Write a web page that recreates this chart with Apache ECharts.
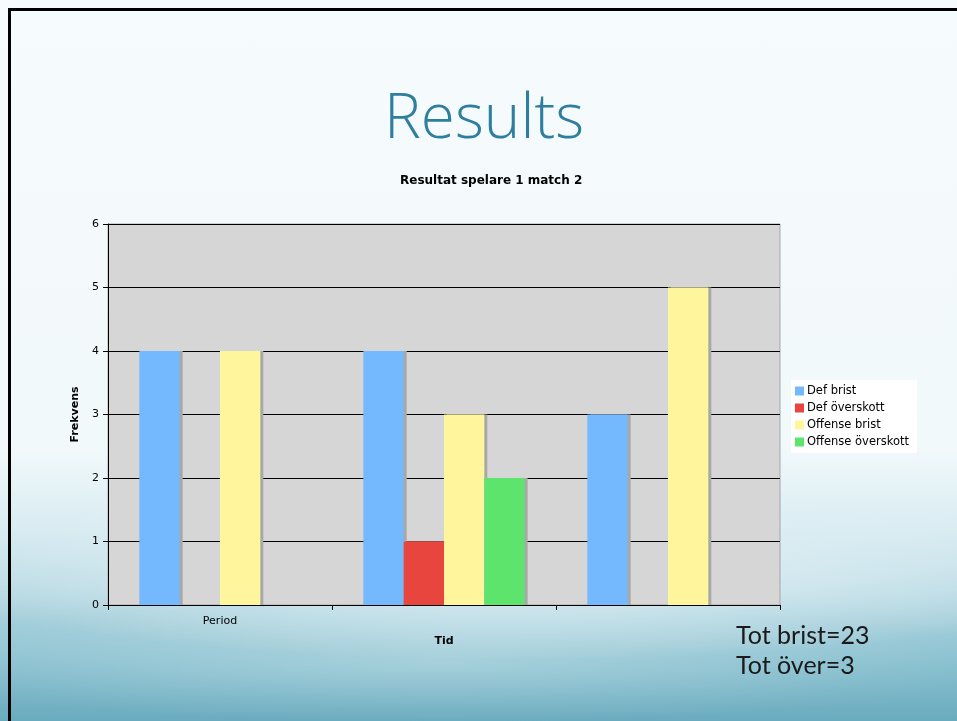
<!DOCTYPE html>
<html>
<head>
<meta charset="utf-8">
<script src="https://cdn.jsdelivr.net/npm/echarts@6/dist/echarts.min.js"></script>
<style>
  html, body { margin: 0; padding: 0; }
  body {
    width: 957px; height: 721px; overflow: hidden; position: relative;
    background:
      radial-gradient(ellipse 560px 60px at 46% 92%, rgba(255,255,255,0.25), rgba(255,255,255,0) 100%),
      radial-gradient(ellipse 620px 90px at 55% 79%, rgba(226,241,246,0.8) 20%, rgba(226,241,246,0) 100%),
      linear-gradient(to bottom, #f6fbfd 0%, #f2f9fb 62%, #d9ecf2 73%, #b3d6e1 83%, #88c0cf 92%, #6aabbf 100%);
  }
  .frame {
    position: absolute; left: 8px; top: 8px; right: -10px; bottom: -10px;
    border-top: 3px solid #000; border-left: 3px solid #000;
  }
  #chart { position: absolute; left: 0; top: 0; width: 957px; height: 721px; }
</style>
</head>
<body>
<div class="frame"></div>
<div id="chart"></div>
<script>
const categories = ['p1', 'p2', 'p3'];
const xLabels = ['Period', '', ''];
const yTicks = [0, 1, 2, 3, 4, 5, 6];
const defBrist = [4, 4, 3];
const defOver = [0, 1, 0];
const offBrist = [4, 3, 5];
const offOver = [0, 2, 0];
const seriesNames = ['Def brist', 'Def överskott', 'Offense brist', 'Offense överskott'];
const seriesColors = ['#74b8fe', '#e8453f', '#fff59d', '#5de46c'];

const chart = echarts.init(document.getElementById('chart'));
const font = '"DejaVu Sans", Verdana, sans-serif';

function bar(name, data, color) {
  return {
    name: name,
    type: 'bar',
    data: data,
    barGap: '0%',
    barCategoryGap: '28%',
    itemStyle: {
      color: color,
      shadowColor: '#a8a8a8',
      shadowOffsetX: 3,
      shadowOffsetY: 0,
      shadowBlur: 0
    },
    emphasis: { disabled: true }
  };
}

chart.setOption({
  animation: false,
  backgroundColor: 'transparent',
  textStyle: { fontFamily: font },
  grid: {
    left: 108, top: 224, right: 177, bottom: 116,
    show: true, backgroundColor: '#d6d6d6', borderColor: '#a6a6a6', borderWidth: 1
  },
  legend: {
    orient: 'vertical',
    left: 791, top: 380,
    backgroundColor: '#ffffff',
    padding: [5, 8, 5, 4],
    itemGap: 5,
    itemWidth: 9, itemHeight: 9,
    icon: 'rect',
    textStyle: { fontSize: 11.5, color: '#000', fontFamily: font, padding: [0, 0, 0, -2] },
    data: seriesNames
  },
  xAxis: {
    type: 'category',
    data: categories,
    name: 'Tid',
    nameLocation: 'middle',
    nameGap: 31,
    nameTextStyle: { fontSize: 11, fontWeight: 'bold', color: '#000', fontFamily: font },
    axisLine: { lineStyle: { color: '#000', width: 1 } },
    axisTick: { show: true, length: 5, lineStyle: { color: '#000' } },
    axisLabel: {
      margin: 11, fontSize: 11, color: '#000',
      formatter: function (v, i) { return xLabels[i]; }
    }
  },
  yAxis: {
    type: 'value',
    min: yTicks[0], max: yTicks[yTicks.length - 1], interval: 1,
    name: 'Frekvens',
    nameLocation: 'middle',
    nameRotate: 90,
    nameGap: 20,
    nameTextStyle: { fontSize: 11, fontWeight: 'bold', color: '#000', fontFamily: font },
    axisLine: { show: true, lineStyle: { color: '#000', width: 1 } },
    axisTick: { show: true, length: 5, lineStyle: { color: '#000' } },
    axisLabel: { margin: 9, fontSize: 11, color: '#000' },
    splitLine: { show: true, lineStyle: { color: '#000', width: 1 } }
  },
  series: [
    bar(seriesNames[0], defBrist, seriesColors[0]),
    bar(seriesNames[1], defOver, seriesColors[1]),
    bar(seriesNames[2], offBrist, seriesColors[2]),
    bar(seriesNames[3], offOver, seriesColors[3])
  ],
  graphic: [
    {
      type: 'text', left: 384, top: 89,
      style: {
        text: 'Results', fill: '#2e7ea0',
        font: '300 62px "Open Sans", Lato, sans-serif'
      }
    },
    {
      type: 'text', left: 400, top: 175,
      style: { text: 'Resultat spelare 1 match 2', fill: '#000', font: 'bold 12px ' + font }
    },
    {
      type: 'text', left: 736, top: 621,
      style: {
        text: 'Tot brist=23\nTot över=3', fill: '#1a1a1a', lineHeight: 30,
        font: '400 25px Lato, "Open Sans", sans-serif'
      }
    }
  ]
});
</script>
</body>
</html>
